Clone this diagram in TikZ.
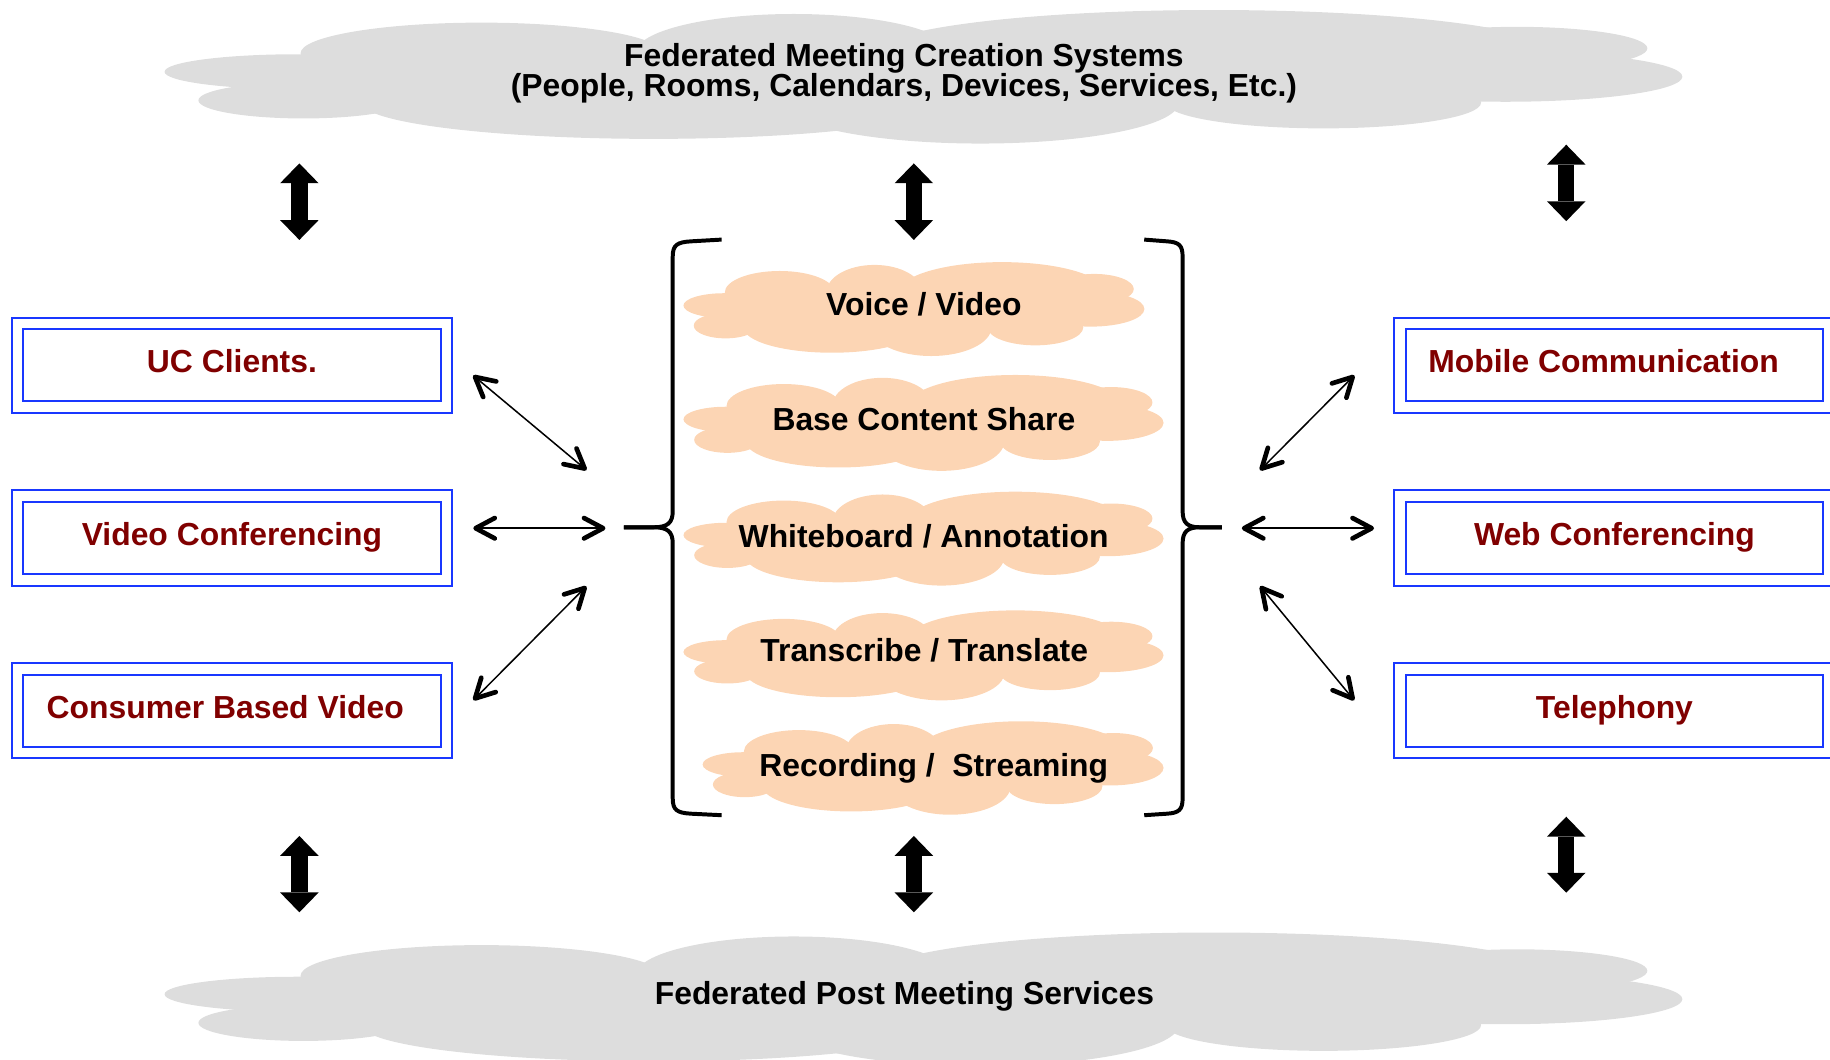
\documentclass[tikz,border=0pt]{standalone}
\usepackage{fontspec}
\setmainfont{Liberation Sans}
\usetikzlibrary{arrows.meta,calc}
\definecolor{cloudgray}{RGB}{221,221,221}
\definecolor{peach}{RGB}{252,213,180}
\definecolor{boxblue}{RGB}{25,55,255}
\definecolor{labelred}{RGB}{128,0,0}
\newcommand\drawcloud[5]{%
  \begin{scope}[shift={(#1,#2)},xscale=#3,yscale=#4,shift={(-140,-8.6)}]
    \fill[#5] (290,42) rectangle (1270,86);
    \fill[#5] (255,61.5) ellipse [x radius=114,y radius=15];
    \fill[#5] (260,86) ellipse [x radius=90,y radius=15.5];
    \fill[#5] (412.5,45.7) ellipse [x radius=155,y radius=26.3];
    \fill[#5] (680,45) ellipse [x radius=135,y radius=33];
    \fill[#5] (1040,45) ellipse [x radius=290,y radius=36.4];
    \fill[#5] (1300,41.4) ellipse [x radius=111.5,y radius=18.4];
    \fill[#5] (1290,65.7) ellipse [x radius=151.5,y radius=21.5];
    \fill[#5] (1134,88) ellipse [x radius=135,y radius=22];
    \fill[#5] (560,88) ellipse [x radius=250,y radius=31];
    \fill[#5] (840,88) ellipse [x radius=170,y radius=35];
  \end{scope}}
% double-headed thin arrow with bold open barbs, between two named coordinates
\newcommand\thinlink[2]{%
  \draw[thinshaft] (#1) -- (#2);
  \draw[barb] ($(#2)!9.3pt!28:(#1)$) -- (#2) -- ($(#2)!9.3pt!-28:(#1)$);
  \draw[barb] ($(#1)!9.3pt!28:(#2)$) -- (#1) -- ($(#1)!9.3pt!-28:(#2)$);}
\begin{document}
\begin{tikzpicture}[x=0.5pt,y=-0.5pt,
  lbl/.style={font=\fontsize{13.65pt}{13pt}\selectfont\bfseries},
  cl/.style={lbl,anchor=base,inner sep=0pt},
  box/.style={draw=boxblue,double,double distance=4.1pt,line width=0.9pt,
    minimum width=183.75pt,minimum height=35.85pt,inner sep=0pt,
    text height=10pt,text depth=3.5pt,lbl,text=labelred},
  thinshaft/.style={line width=0.65pt},
  barb/.style={line width=2pt,line cap=round,line join=round},
  blockarrow/.style={line width=7pt,
    {Triangle[width=16.5pt,length=8.5pt,line width=0pt]}-{Triangle[width=16.5pt,length=8.5pt,line width=0pt]}},
  brack/.style={line width=1.7pt,line join=round}]
\useasboundingbox (0,0) rectangle (1568,907.4);
% clouds
\drawcloud{140}{8.6}{1}{1}{cloudgray}
\drawcloud{140}{799}{1}{1}{cloudgray}
\drawcloud{585.3}{224.6}{0.3037}{0.7032}{peach}
\drawcloud{585.3}{321.3}{0.3163}{0.718}{peach}
\drawcloud{585.3}{421.3}{0.3163}{0.7032}{peach}
\drawcloud{585.3}{523}{0.3163}{0.674}{peach}
\drawcloud{601.7}{618}{0.3037}{0.70}{peach}
% cloud texts
\node[cl] (top1) at (774.5,57.1) {Federated Meeting Creation Systems};
\node[cl] (top2) at (774.5,82.8) {(People, Rooms, Calendars, Devices, Services, Etc.)};
\node[cl] (bot) at (775,861.1) {Federated Post Meeting Services};
\node[cl] (c1) at (791.6,270.4) {Voice / Video};
\node[cl] (c2) at (791.6,368.8) {Base Content Share};
\node[cl] (c3) at (791.4,468.8) {Whiteboard / Annotation};
\node[cl] (c4) at (791.9,567.2) {Transcribe / Translate};
\node[cl] (c5) at (800.1,665.6) {Recording /~~Streaming};
% brackets
\draw[brack] (618.3,205.3) -- (592,206.8) .. controls (580,207.5) and (576.4,210) .. (576.4,220)
  -- (576.4,438) .. controls (576.4,448) and (572,451.8) .. (560,451.8) -- (534.5,451.8);
\draw[brack] (534.5,451.8) -- (560,451.8) .. controls (572,451.8) and (576.4,455.6) .. (576.4,465.6)
  -- (576.4,684) .. controls (576.4,694) and (580,696.5) .. (592,697.2) -- (618.3,698.5);
\draw[brack] (980.4,205.3) -- (1000,206.8) .. controls (1010,207.5) and (1013.3,210) .. (1013.3,220)
  -- (1013.3,438) .. controls (1013.3,448) and (1017.5,451.8) .. (1028,451.8) -- (1047,451.8);
\draw[brack] (1047,451.8) -- (1028,451.8) .. controls (1017.5,451.8) and (1013.3,455.6) .. (1013.3,465.6)
  -- (1013.3,684) .. controls (1013.3,694) and (1010,696.5) .. (1000,697.2) -- (980.4,698.5);
% boxes
\node[box] (uc) at (198.75,313) {UC Clients.};
\node[box] (vc) at (198.75,461) {Video Conferencing};
\node[box] (cbv) at (198.75,609) {Consumer Based Video\kern5.75pt};
\node[box] (mob) at (1383.3,313) {Mobile Communication\kern9.3pt};
\node[box] (web) at (1383.3,461) {Web Conferencing};
\node[box] (tel) at (1383.3,609) {Telephony};
% thin arrow ends
\coordinate (l1a) at (407,323); \coordinate (l1b) at (501,401.5);
\coordinate (l2a) at (407.5,452.6); \coordinate (l2b) at (516.8,452.6);
\coordinate (l3a) at (407,598.5); \coordinate (l3b) at (501,503.8);
\coordinate (r1a) at (1081,401.5); \coordinate (r1b) at (1159,323);
\coordinate (r2a) at (1066,452.6); \coordinate (r2b) at (1175.3,452.6);
\coordinate (r3a) at (1081,503.8); \coordinate (r3b) at (1159,598.5);
\thinlink{l1a}{l1b}
\thinlink{l2a}{l2b}
\thinlink{l3a}{l3b}
\thinlink{r1a}{r1b}
\thinlink{r2a}{r2b}
\thinlink{r3a}{r3b}
% block arrow ends
\coordinate (bt1a) at (256.5,140); \coordinate (bt1b) at (256.5,205.6);
\coordinate (bt2a) at (783,140); \coordinate (bt2b) at (783,205.6);
\coordinate (bt3a) at (1342,124); \coordinate (bt3b) at (1342,189.5);
\coordinate (bb1a) at (256.5,716.3); \coordinate (bb1b) at (256.5,781.7);
\coordinate (bb2a) at (783,716.3); \coordinate (bb2b) at (783,781.7);
\coordinate (bb3a) at (1342,699.8); \coordinate (bb3b) at (1342,764.9);
\draw[blockarrow] (bt1a) -- (bt1b);
\draw[blockarrow] (bt2a) -- (bt2b);
\draw[blockarrow] (bt3a) -- (bt3b);
\draw[blockarrow] (bb1a) -- (bb1b);
\draw[blockarrow] (bb2a) -- (bb2b);
\draw[blockarrow] (bb3a) -- (bb3b);
\end{tikzpicture}
\end{document}
